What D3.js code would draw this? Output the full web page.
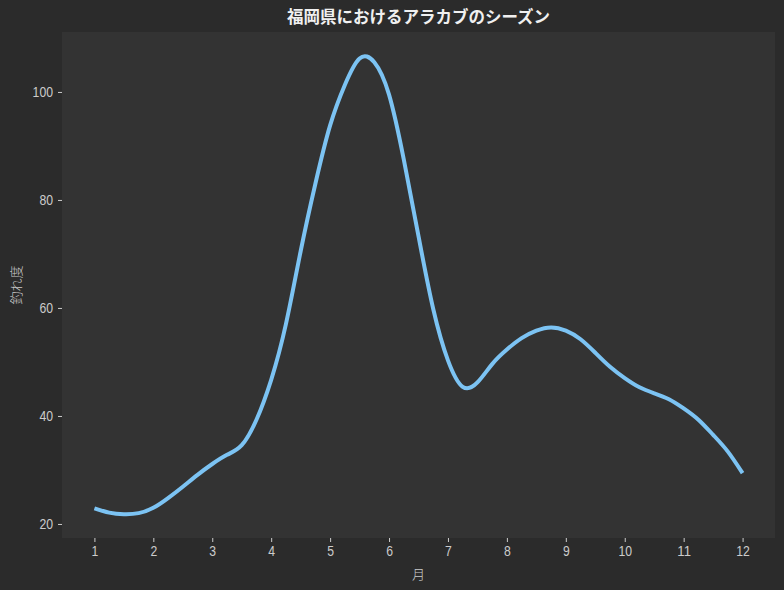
<!DOCTYPE html>
<html>
<head>
<meta charset="utf-8">
<script src="https://cdn.jsdelivr.net/npm/d3@7"></script>
<style>
  body { margin: 0; background: #2b2b2b; }
  svg { display: block; font-family: "Noto Sans CJK JP", "DejaVu Sans", sans-serif; }
</style>
</head>
<body>
<div id="chart"></div>
<script>
// quarter-month samples
const months = [1, 1.25, 1.5, 1.75, 2, 2.25, 2.5, 2.75, 3, 3.25, 3.5, 3.75,
  4, 4.25, 4.5, 4.75, 5, 5.25, 5.5, 5.75, 6, 6.25, 6.5, 6.75,
  7, 7.25, 7.5, 7.75, 8, 8.25, 8.5, 8.75, 9, 9.25, 9.5, 9.75,
  10, 10.25, 10.5, 10.75, 11, 11.25, 11.5, 11.75, 12];
const values = [22.9, 22.1, 21.8, 22.0, 23.0, 24.8, 26.9, 29.1, 31.1, 32.8, 34.6, 39.3,
  46.7, 57.0, 70.5, 83.0, 93.8, 101.3, 106.2, 105.5, 99.5, 87.5, 73.3, 59.8,
  50.3, 45.4, 46.2, 49.6, 52.3, 54.4, 55.8, 56.4, 55.8, 54.2, 51.7, 49.1,
  47.0, 45.3, 44.2, 43.1, 41.4, 39.3, 36.5, 33.4, 29.4];
const xTicks = [1, 2, 3, 4, 5, 6, 7, 8, 9, 10, 11, 12];
const yTicks = [20, 40, 60, 80, 100];

const title = "福岡県におけるアラカブのシーズン";
const xTitle = "月";
const yTitle = "釣れ度";

const width = 784, height = 590;
const margin = { top: 32, right: 9, bottom: 52, left: 62 };

const svg = d3.select("#chart").append("svg")
  .attr("width", width).attr("height", height);

svg.append("rect").attr("width", width).attr("height", height).attr("fill", "#2b2b2b");

const x = d3.scaleLinear().domain([0.45, 12.55]).range([margin.left, width - margin.right]);
const y = d3.scaleLinear().domain([17.4, 111.1]).range([height - margin.bottom, margin.top]);

svg.append("rect")
  .attr("x", margin.left).attr("y", margin.top)
  .attr("width", width - margin.left - margin.right)
  .attr("height", height - margin.top - margin.bottom)
  .attr("fill", "#333333");

const xAxis = svg.append("g")
  .attr("transform", `translate(0,${height - margin.bottom})`)
  .call(d3.axisBottom(x).tickValues(xTicks).tickSize(4).tickPadding(4).tickFormat(d3.format("d")));
const yAxis = svg.append("g")
  .attr("transform", `translate(${margin.left},0)`)
  .call(d3.axisLeft(y).tickValues(yTicks).tickSize(4).tickPadding(5).tickFormat(d3.format("d")));

// the original digits are tall and narrow, squeeze them a bit
[xAxis, yAxis].forEach(g => {
  g.select(".domain").remove();
  g.selectAll(".tick line").attr("stroke", "#cccccc");
  g.selectAll(".tick text").attr("fill", "#cccccc").attr("font-size", 14.5)
    .attr("font-weight", 300)
    .attr("textLength", d => String(d).length * 6.8)
    .attr("lengthAdjust", "spacingAndGlyphs");
});

const pts = months.map((m, i) => [m, values[i]]);
const line = d3.line()
  .x(d => x(d[0])).y(d => y(d[1]))
  .curve(d3.curveNatural);

svg.append("path")
  .datum(pts)
  .attr("d", line)
  .attr("fill", "none")
  .attr("stroke", "#7cc3f3")
  .attr("stroke-width", 4)
  .attr("stroke-linejoin", "round");

svg.append("text")
  .attr("x", (margin.left + width - margin.right) / 2).attr("y", 23)
  .attr("text-anchor", "middle")
  .attr("fill", "#f0f0f0").attr("font-size", 16.5).attr("font-weight", "bold")
  .text(title);

svg.append("text")
  .attr("x", (margin.left + width - margin.right) / 2).attr("y", 579)
  .attr("text-anchor", "middle")
  .attr("fill", "#cccccc").attr("font-size", 13).attr("font-weight", 300)
  .text(xTitle);

svg.append("text")
  .attr("transform", `translate(21,${(margin.top + height - margin.bottom) / 2}) rotate(-90)`)
  .attr("text-anchor", "middle")
  .attr("fill", "#cccccc").attr("font-size", 13).attr("font-weight", 300)
  .text(yTitle);
</script>
</body>
</html>
